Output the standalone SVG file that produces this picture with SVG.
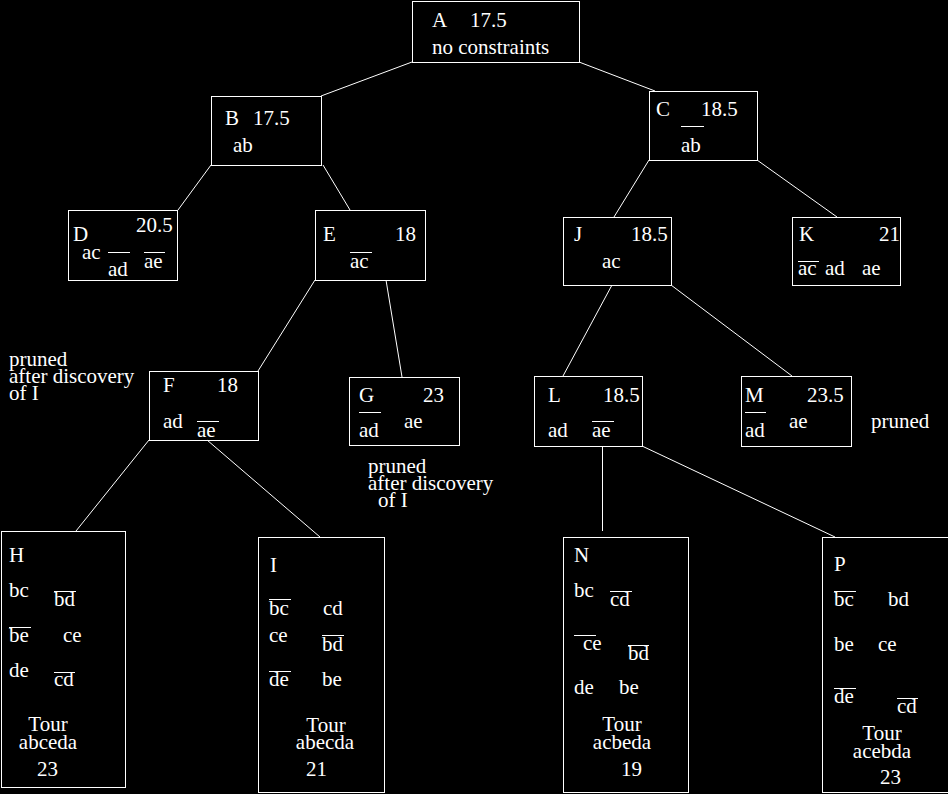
<svg xmlns="http://www.w3.org/2000/svg" width="948" height="794" viewBox="0 0 948 794">
<style>
text{font-family:"Liberation Serif","Times New Roman",serif;font-size:21px;fill:#fff}
.box{fill:none;stroke:#fff;stroke-width:1}
.ol,.edge{stroke:#fff;stroke-width:1;fill:none}
.m{text-anchor:middle}
</style>
<rect width="948" height="794" fill="#000"/>
<g id="connectors" class="edge">
<line x1="412" y1="62" x2="321" y2="96"/>
<line x1="579" y1="62" x2="655" y2="91"/>
<line x1="211" y1="165" x2="178" y2="210"/>
<line x1="323" y1="165" x2="350" y2="210"/>
<line x1="649" y1="160" x2="614" y2="217"/>
<line x1="757" y1="160" x2="837" y2="217"/>
<line x1="315" y1="280" x2="258" y2="371"/>
<line x1="386" y1="280" x2="402" y2="377"/>
<line x1="612" y1="285" x2="563" y2="376"/>
<line x1="671" y1="285" x2="792" y2="376"/>
<line x1="149" y1="440" x2="76" y2="531"/>
<line x1="207" y1="440" x2="320" y2="537"/>
<line x1="602.5" y1="446" x2="602.5" y2="531"/>
<line x1="642" y1="446" x2="835" y2="537"/>
</g>
<g id="A"><rect class="box" x="412.5" y="1.5" width="167" height="61"/>
<text x="432" y="27">A</text><text x="470" y="27">17.5</text><text x="432" y="54">no constraints</text></g>
<g id="B"><rect class="box" x="211.5" y="96.5" width="110" height="69"/>
<text x="225" y="125">B</text><text x="253" y="125">17.5</text><text x="233" y="152">ab</text></g>
<g id="C"><rect class="box" x="649.5" y="91.5" width="108" height="69"/>
<text x="656" y="116">C</text><text x="701" y="116">18.5</text><line class="ol" x1="681" y1="126.5" x2="704" y2="126.5"/><text x="681" y="152">ab</text></g>
<g id="D"><rect class="box" x="68.5" y="210.5" width="109" height="70"/>
<text x="73" y="241">D</text><text x="136" y="232">20.5</text><text x="82" y="259">ac</text>
<line class="ol" x1="108" y1="252.5" x2="130" y2="252.5"/><text x="108" y="276">ad</text>
<line class="ol" x1="144" y1="252.5" x2="165" y2="252.5"/><text x="144" y="268">ae</text></g>
<g id="E"><rect class="box" x="315.5" y="210.5" width="110" height="70"/>
<text x="323" y="241">E</text><text x="395" y="241">18</text>
<line class="ol" x1="350" y1="252.5" x2="372" y2="252.5"/><text x="350" y="268">ac</text></g>
<g id="J"><rect class="box" x="563.5" y="217.5" width="108" height="68"/>
<text x="574" y="241">J</text><text x="631" y="241">18.5</text><text x="602" y="268">ac</text></g>
<g id="K"><rect class="box" x="792.5" y="217.5" width="108" height="68"/>
<text x="799" y="241">K</text><text x="879" y="241">21</text>
<line class="ol" x1="798" y1="261.5" x2="819" y2="261.5"/><text x="798" y="275">ac</text><text x="825" y="275">ad</text><text x="862" y="275">ae</text></g>
<g id="F"><rect class="box" x="149.5" y="371.5" width="109" height="69"/>
<text x="163" y="392">F</text><text x="217" y="392">18</text><text x="163" y="428">ad</text>
<line class="ol" x1="197" y1="421.5" x2="219" y2="421.5"/><text x="197" y="437">ae</text></g>
<g id="G"><rect class="box" x="349.5" y="377.5" width="110" height="68"/>
<text x="359" y="402">G</text><text x="423" y="402">23</text>
<line class="ol" x1="359" y1="412.5" x2="381" y2="412.5"/><text x="359" y="437">ad</text><text x="404" y="428">ae</text></g>
<g id="L"><rect class="box" x="534.5" y="376.5" width="108" height="70"/>
<text x="548" y="402">L</text><text x="603" y="402">18.5</text><text x="548" y="437">ad</text>
<line class="ol" x1="592" y1="421.5" x2="614" y2="421.5"/><text x="592" y="437">ae</text></g>
<g id="M"><rect class="box" x="741.5" y="376.5" width="110" height="70"/>
<text x="745" y="402">M</text><text x="807" y="402">23.5</text>
<line class="ol" x1="745" y1="412.5" x2="766" y2="412.5"/><text x="745" y="437">ad</text><text x="789" y="428">ae</text></g>
<g id="H"><rect class="box" x="1.5" y="531.5" width="124" height="256"/>
<text x="9" y="562">H</text>
<text x="9" y="597">bc</text><line class="ol" x1="54" y1="591.5" x2="76" y2="591.5"/><text x="54" y="606">bd</text>
<line class="ol" x1="9" y1="627.5" x2="31" y2="627.5"/><text x="9" y="642">be</text><text x="63" y="642">ce</text>
<text x="9" y="677">de</text><line class="ol" x1="54" y1="672.5" x2="75" y2="672.5"/><text x="54" y="686">cd</text>
<text class="m" x="48" y="731">Tour</text><text class="m" x="48" y="749">abceda</text><text x="37" y="776">23</text></g>
<g id="I"><rect class="box" x="258.5" y="537.5" width="126" height="255"/>
<text x="270" y="572">I</text>
<line class="ol" x1="269" y1="599.5" x2="291" y2="599.5"/><text x="269" y="615">bc</text><text x="323" y="615">cd</text>
<text x="269" y="642">ce</text><line class="ol" x1="322" y1="635.5" x2="344" y2="635.5"/><text x="322" y="651">bd</text>
<line class="ol" x1="269" y1="671.5" x2="291" y2="671.5"/><text x="269" y="686">de</text><text x="322" y="686">be</text>
<text class="m" x="326" y="732">Tour</text><text class="m" x="325" y="749">abecda</text><text x="306" y="776">21</text></g>
<g id="N"><rect class="box" x="563.5" y="537.5" width="125" height="255"/>
<text x="574" y="562">N</text>
<text x="574" y="597">bc</text><line class="ol" x1="610" y1="591.5" x2="632" y2="591.5"/><text x="610" y="606">cd</text>
<line class="ol" x1="574" y1="635.5" x2="596" y2="635.5"/><text x="583" y="650">ce</text>
<line class="ol" x1="628" y1="645.5" x2="649" y2="645.5"/><text x="628" y="660">bd</text>
<text x="574" y="694">de</text><text x="619" y="694">be</text>
<text class="m" x="622" y="731">Tour</text><text class="m" x="622" y="749">acbeda</text><text x="621" y="776">19</text></g>
<g id="P"><rect class="box" x="822.5" y="537.5" width="130" height="255"/>
<text x="834" y="571">P</text>
<line class="ol" x1="834" y1="591.5" x2="856" y2="591.5"/><text x="834" y="606">bc</text><text x="888" y="606">bd</text>
<text x="834" y="651">be</text><text x="878" y="651">ce</text>
<line class="ol" x1="834" y1="688.5" x2="856" y2="688.5"/><text x="834" y="703">de</text>
<line class="ol" x1="897" y1="698.5" x2="918" y2="698.5"/><text x="897" y="713">cd</text>
<text class="m" x="882" y="740">Tour</text><text class="m" x="882" y="758">acebda</text><text x="880" y="784">23</text></g>
<g id="notes">
<text x="9" y="366">pruned</text><text x="9" y="383">after discovery</text><text x="9" y="400">of I</text>
<text x="368" y="473">pruned</text><text x="368" y="490">after discovery</text><text x="378" y="507">of I</text>
<text x="871" y="428">pruned</text>
</g>
</svg>
